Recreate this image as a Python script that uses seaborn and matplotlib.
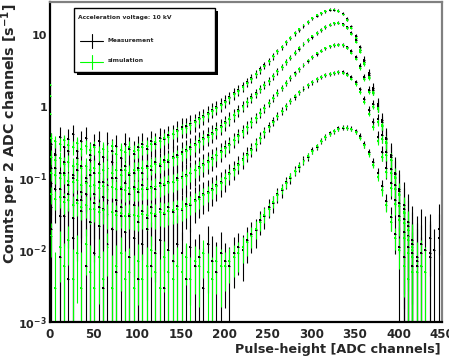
import numpy as np
import pandas as pd
import matplotlib
matplotlib.use("Agg")
import matplotlib.pyplot as plt
import seaborn as sns
from matplotlib.lines import Line2D
from matplotlib.patches import Rectangle
from matplotlib.ticker import FixedLocator, FixedFormatter, MultipleLocator, NullFormatter

nan = np.nan

# bin centres [ADC channels]
bin_centers = np.arange(1.0, 450, 5.0)
curves = ["A", "B", "C", "D", "E"]

# ---------------------------------------------------------------------------
# Measured count rates (black), read off the picture
# ---------------------------------------------------------------------------
meas_a = [0.30, 0.22, 0.38, 0.27, 0.35, 0.41, 0.24, 0.33, 0.37, 0.21,
          0.29, 0.33, 0.20, 0.31, 0.24, 0.28, 0.19, 0.30, 0.26, 0.22,
          0.27, 0.30, 0.26, 0.33, 0.30, 0.36, 0.35, 0.40, 0.41, 0.47,
          0.52, 0.53, 0.58, 0.62, 0.69, 0.74, 0.82, 0.90, 0.98, 1.08,
          1.20, 1.35, 1.52, 1.70, 1.90, 2.18, 2.50, 2.86, 3.28, 3.75,
          4.30, 5.00, 5.85, 6.70, 7.80, 9.00, 10.4, 11.8, 13.3, 14.9,
          16.8, 18.4, 19.8, 21.2, 22.2, 22.3, 21.6, 19.6, 16.5, 13.0,
          9.50, 6.70, 4.50, 2.90, 1.80, 1.08, 0.64, 0.37, 0.21, 0.12,
          0.070, 0.042, 0.025, 0.014, 0.008, 0.012, nan, 0.009, nan, 0.015]
meas_b = [0.14, 0.21, 0.12, 0.17, 0.24, 0.11, 0.19, 0.15, 0.10, 0.18,
          0.12, 0.16, 0.09, 0.14, 0.17, 0.10, 0.13, 0.15, 0.11, 0.12,
          0.14, 0.12, 0.15, 0.13, 0.17, 0.15, 0.18, 0.17, 0.20, 0.21,
          0.23, 0.25, 0.27, 0.30, 0.33, 0.36, 0.40, 0.43, 0.48, 0.54,
          0.60, 0.68, 0.77, 0.89, 1.02, 1.17, 1.34, 1.53, 1.76, 2.02,
          2.30, 2.66, 3.10, 3.57, 4.20, 4.80, 5.60, 6.40, 7.35, 8.40,
          9.40, 10.6, 11.6, 12.8, 13.7, 14.4, 14.6, 14.0, 12.7, 10.7,
          8.40, 6.20, 4.20, 2.75, 1.70, 1.03, 0.60, 0.35, 0.20, 0.115,
          0.066, 0.038, 0.022, 0.012, 0.007, nan, 0.010, nan, nan, nan]
meas_c = [0.085, 0.14, 0.07, 0.12, 0.06, 0.10, 0.13, 0.065, 0.09, 0.11,
          0.06, 0.09, 0.055, 0.08, 0.10, 0.05, 0.07, 0.085, 0.06, 0.075,
          0.065, 0.08, 0.07, 0.076, 0.07, 0.085, 0.08, 0.09, 0.088, 0.10,
          0.105, 0.11, 0.12, 0.13, 0.145, 0.16, 0.175, 0.19, 0.21, 0.24,
          0.27, 0.30, 0.345, 0.395, 0.455, 0.52, 0.61, 0.70, 0.82, 0.96,
          1.13, 1.33, 1.56, 1.83, 2.15, 2.50, 2.90, 3.30, 3.80, 4.30,
          4.85, 5.45, 6.00, 6.45, 6.90, 7.20, 7.30, 7.20, 6.70, 5.90,
          4.90, 3.70, 2.60, 1.72, 1.10, 0.67, 0.40, 0.23, 0.135, 0.08,
          0.046, 0.027, 0.016, 0.009, 0.006, nan, nan, 0.008, nan, nan]
meas_d = [0.04, 0.07, 0.03, 0.055, 0.08, 0.028, 0.05, 0.035, 0.06, 0.025,
          0.045, 0.022, 0.038, 0.05, 0.02, 0.035, 0.04, 0.018, 0.03, 0.042,
          0.025, 0.035, 0.028, 0.04, 0.03, 0.037, 0.032, 0.04, 0.034, 0.041,
          0.036, 0.044, 0.042, 0.05, 0.055, 0.06, 0.065, 0.072, 0.08, 0.09,
          0.10, 0.118, 0.135, 0.16, 0.185, 0.22, 0.255, 0.305, 0.37, 0.44,
          0.53, 0.62, 0.74, 0.87, 1.02, 1.20, 1.37, 1.57, 1.77, 1.98,
          2.17, 2.38, 2.56, 2.74, 2.88, 2.97, 3.05, 3.02, 2.85, 2.60,
          2.20, 1.73, 1.28, 0.90, 0.60, 0.38, 0.23, 0.14, 0.085, 0.05,
          0.03, 0.018, 0.011, 0.006, nan, 0.009, nan, nan, nan, nan]
meas_e = [0.02, nan, 0.008, 0.03, 0.004, 0.015, nan, 0.05, 0.006, 0.025,
          0.009, 0.04, 0.003, 0.012, 0.02, 0.005, 0.03, nan, 0.008, 0.015,
          0.004, 0.012, 0.02, 0.006, 0.009, 0.014, 0.003, 0.01, 0.007, 0.012,
          0.009, 0.004, 0.011, 0.006, 0.008, 0.003, 0.012, 0.007, 0.005, 0.009,
          0.007, 0.006, 0.009, 0.011, 0.010, 0.014, 0.017, 0.019, 0.026, 0.030,
          0.040, 0.045, 0.060, 0.069, 0.088, 0.101, 0.128, 0.145, 0.178, 0.200,
          0.245, 0.275, 0.335, 0.375, 0.425, 0.455, 0.495, 0.505, 0.51, 0.49,
          0.45, 0.385, 0.30, 0.23, 0.17, 0.118, 0.078, 0.048, 0.029, 0.017,
          0.011, 0.008, nan, 0.012, nan, 0.006, nan, 0.015, 0.01, 0.02]

# ---------------------------------------------------------------------------
# Simulated count rates (green)
# ---------------------------------------------------------------------------
sim_a = [0.36, 0.33, 0.30, 0.34, 0.29, 0.27, 0.31, 0.26, 0.28, 0.25,
         0.27, 0.23, 0.26, 0.24, 0.28, 0.22, 0.25, 0.23, 0.27, 0.24,
         0.25, 0.27, 0.28, 0.30, 0.32, 0.33, 0.36, 0.38, 0.42, 0.45,
         0.49, 0.51, 0.55, 0.60, 0.66, 0.72, 0.79, 0.87, 0.95, 1.05,
         1.17, 1.32, 1.48, 1.66, 1.86, 2.14, 2.45, 2.82, 3.24, 3.72,
         4.27, 5.00, 5.90, 6.80, 7.90, 9.10, 10.5, 12.0, 13.5, 15.1,
         17.0, 18.6, 20.0, 21.4, 22.4, 22.4, 21.4, 19.1, 15.8, 12.3,
         8.90, 6.20, 4.10, 2.60, 1.60, 0.95, 0.55, 0.32, 0.18, 0.105,
         0.060, 0.034, 0.019, 0.011, 0.005, nan, nan, nan, nan, nan]
sim_b = [0.20, 0.18, 0.19, 0.16, 0.17, 0.15, 0.16, 0.14, 0.15, 0.13,
         0.14, 0.12, 0.13, 0.14, 0.12, 0.13, 0.11, 0.13, 0.12, 0.13,
         0.13, 0.14, 0.14, 0.15, 0.16, 0.16, 0.17, 0.18, 0.19, 0.20,
         0.22, 0.24, 0.26, 0.29, 0.32, 0.35, 0.38, 0.42, 0.47, 0.52,
         0.59, 0.66, 0.76, 0.87, 1.00, 1.15, 1.32, 1.51, 1.74, 2.00,
         2.29, 2.63, 3.09, 3.55, 4.17, 4.79, 5.62, 6.46, 7.41, 8.51,
         9.50, 10.7, 11.7, 12.9, 13.8, 14.5, 14.5, 13.8, 12.3, 10.2,
         7.90, 5.75, 3.90, 2.50, 1.55, 0.93, 0.54, 0.31, 0.18, 0.10,
         0.058, 0.033, 0.019, 0.010, nan, 0.006, nan, nan, nan, nan]
sim_c = [0.12, 0.11, 0.10, 0.11, 0.093, 0.088, 0.095, 0.082, 0.086, 0.078,
         0.081, 0.074, 0.079, 0.072, 0.076, 0.070, 0.075, 0.068, 0.073, 0.070,
         0.071, 0.072, 0.074, 0.073, 0.077, 0.079, 0.083, 0.086, 0.090, 0.095,
         0.100, 0.107, 0.117, 0.129, 0.141, 0.155, 0.170, 0.186, 0.209, 0.234,
         0.263, 0.295, 0.339, 0.389, 0.447, 0.513, 0.600, 0.690, 0.810, 0.950,
         1.12, 1.32, 1.55, 1.82, 2.14, 2.51, 2.88, 3.31, 3.80, 4.37,
         4.90, 5.50, 6.00, 6.50, 6.90, 7.20, 7.25, 7.10, 6.50, 5.60,
         4.60, 3.40, 2.40, 1.58, 1.00, 0.60, 0.355, 0.21, 0.12, 0.071,
         0.041, 0.024, 0.014, 0.008, nan, nan, 0.005, nan, nan, nan]
sim_d = [0.060, 0.052, 0.055, 0.047, 0.050, 0.043, 0.045, 0.040, 0.042, 0.037,
         0.038, 0.034, 0.036, 0.032, 0.034, 0.031, 0.033, 0.030, 0.032, 0.031,
         0.030, 0.032, 0.031, 0.033, 0.032, 0.034, 0.033, 0.035, 0.036, 0.037,
         0.038, 0.041, 0.044, 0.048, 0.052, 0.058, 0.063, 0.069, 0.078, 0.087,
         0.100, 0.115, 0.132, 0.155, 0.182, 0.214, 0.251, 0.302, 0.363, 0.437,
         0.525, 0.617, 0.741, 0.871, 1.02, 1.20, 1.38, 1.58, 1.78, 2.00,
         2.19, 2.40, 2.57, 2.75, 2.88, 2.95, 3.02, 2.95, 2.75, 2.45,
         2.04, 1.58, 1.15, 0.79, 0.52, 0.33, 0.20, 0.123, 0.074, 0.044,
         0.026, 0.015, 0.009, 0.005, nan, nan, nan, nan, nan, nan]
sim_e = [0.016, 0.003, 0.011, 0.006, 0.014, 0.004, 0.009, 0.003, 0.012, 0.005,
         0.003, 0.008, 0.004, 0.011, 0.003, 0.006, 0.009, 0.004, 0.005, 0.003,
         0.007, 0.004, 0.006, 0.010, 0.005, 0.003, 0.008, 0.005, 0.004, 0.006,
         0.005, 0.008, 0.004, 0.007, 0.006, 0.009, 0.005, 0.004, 0.007, 0.006,
         0.006, 0.007, 0.008, 0.009, 0.011, 0.013, 0.016, 0.020, 0.025, 0.031,
         0.038, 0.047, 0.058, 0.071, 0.086, 0.104, 0.125, 0.148, 0.175, 0.205,
         0.24, 0.28, 0.33, 0.38, 0.42, 0.46, 0.49, 0.51, 0.50, 0.48,
         0.44, 0.37, 0.29, 0.215, 0.155, 0.105, 0.068, 0.042, 0.025, 0.015,
         0.010, 0.006, 0.004, nan, nan, nan, nan, nan, nan, nan]
# first-channel spikes of the simulated spectra A, B, C
sim_first_channel = [2.0, 1.4, 0.78]

# live time per curve [s] and background uncertainty per 50-channel block
meas_time = [20, 30, 50, 80, 300]
sim_time = [80, 100, 150, 250, 600]
meas_bg_err = [0.035, 0.03, 0.018, 0.007, 0.0025, 0.0015, 0.0015, 0.003, 0.008]
sim_bg_err = [0.006, 0.005, 0.004, 0.003, 0.001, 0.0005, 0.0005, 0.001, 0.002]

y_ticks = [1e-3, 1e-2, 1e-1, 1, 10]
y_tick_labels = [r"$\mathbf{10^{-3}}$", r"$\mathbf{10^{-2}}$", r"$\mathbf{10^{-1}}$", "1", "10"]
x_ticks = np.arange(0, 451, 50)


def build_frame():
    rows = []
    sets = [("Measurement", [meas_a, meas_b, meas_c, meas_d, meas_e], meas_time, meas_bg_err),
            ("simulation", [sim_a, sim_b, sim_c, sim_d, sim_e], sim_time, sim_bg_err)]
    for source, series, times, bg in sets:
        bg_full = np.repeat(bg, 10)
        for name, vals, t in zip(curves, series, times):
            vals = np.asarray(vals, dtype=float)
            err = np.sqrt(vals / t + bg_full ** 2)
            for x, v, e in zip(bin_centers, vals, err):
                if np.isfinite(v):
                    rows.append((source, name, x, v, e))
    for name, v, t in zip(curves, sim_first_channel, sim_time):
        rows.append(("simulation", name, 0.4, v, np.sqrt(v / t)))
    return pd.DataFrame(rows, columns=["source", "curve", "x", "rate", "err"])


df = build_frame()
colors = {"Measurement": "black", "simulation": "#00ff00"}

sns.set_theme(style="white")
plt.rcParams["font.family"] = ["DejaVu Sans"]
plt.rcParams["font.weight"] = "bold"
plt.rcParams["mathtext.fontset"] = "dejavusans"

fig = plt.figure(figsize=(4.49, 3.61), dpi=100)
ax = fig.add_axes([50 / 449, 39 / 361, 392 / 449, 320 / 361])

for source in ["Measurement", "simulation"]:
    sub = df[df["source"] == source]
    lower = np.minimum(sub["err"], sub["rate"] - 1e-7)
    ax.errorbar(sub["x"], sub["rate"], xerr=1.1, yerr=[lower, sub["err"]],
                fmt="none", ecolor=colors[source], elinewidth=0.8, capsize=0, zorder=2)
sns.scatterplot(data=df, x="x", y="rate", hue="source", palette=colors, s=2,
                marker="s", linewidth=0, legend=False, ax=ax, zorder=3)

ax.set_yscale("log")
ax.set_xlim(0, 450)
ax.set_ylim(1e-3, 28.5)
ax.set_xlabel("")
ax.set_ylabel("")

ax.xaxis.set_major_locator(FixedLocator(x_ticks))
ax.xaxis.set_minor_locator(MultipleLocator(10))
ax.yaxis.set_major_locator(FixedLocator(y_ticks))
ax.yaxis.set_major_formatter(FixedFormatter(y_tick_labels))
ax.yaxis.set_minor_formatter(NullFormatter())
ax.tick_params(axis="both", which="both", direction="in", color="black",
               top=False, right=False)
ax.tick_params(axis="x", which="major", length=9, width=1, pad=4, labelsize=8.6)
ax.tick_params(axis="x", which="minor", length=4.5, width=1)
ax.tick_params(axis="y", which="major", length=12, width=1, pad=2, labelsize=8.0)
ax.tick_params(axis="y", which="minor", length=6, width=1)
for lab in ax.get_xticklabels() + ax.get_yticklabels():
    lab.set_fontweight("bold")

for side in ["left", "bottom"]:
    ax.spines[side].set_color("black")
    ax.spines[side].set_linewidth(1.6)
for side in ["top", "right"]:
    ax.spines[side].set_color("#808080")
    ax.spines[side].set_linewidth(1.6)

fig.text(441 / 449, 1 - 350 / 361, "Pulse-height [ADC channels]", ha="right", va="center",
         fontsize=9.2, fontweight="bold")
fig.text(10 / 449, 1 - 4 / 361, r"Counts per 2 ADC channels [s$^{\mathbf{-1}}$]", ha="center",
         va="top", rotation=90, fontsize=10.3, fontweight="bold")


# legend box in ROOT style with a drop shadow
def fx(px):
    return (px - 50) / 392


def fy(py):
    return (322 - py) / 320


ax.add_patch(Rectangle((fx(77), fy(75)), fx(218) - fx(77), fy(11) - fy(75),
                       transform=ax.transAxes, facecolor="black", edgecolor="none", zorder=5))
ax.add_patch(Rectangle((fx(74), fy(72)), fx(215) - fx(74), fy(8) - fy(72),
                       transform=ax.transAxes, facecolor="white", edgecolor="black",
                       linewidth=1, zorder=6))
ax.text(fx(78), fy(18), "Acceleration voltage: 10 kV", transform=ax.transAxes,
        fontsize=4.3, fontweight="bold", va="center", ha="left", zorder=7)
for label, yy in [("Measurement", 41), ("simulation", 62)]:
    c = colors[label]
    ax.add_line(Line2D([fx(80), fx(103)], [fy(yy), fy(yy)], transform=ax.transAxes,
                       color=c, linewidth=0.8, zorder=7))
    ax.add_line(Line2D([fx(91.5), fx(91.5)], [fy(yy - 7), fy(yy + 7)], transform=ax.transAxes,
                       color=c, linewidth=0.8, zorder=7))
    ax.text(fx(108), fy(yy - 1), label, transform=ax.transAxes, fontsize=4.3,
            fontweight="bold", va="center", ha="left", zorder=7)

fig.savefig("out.png", dpi=100)
